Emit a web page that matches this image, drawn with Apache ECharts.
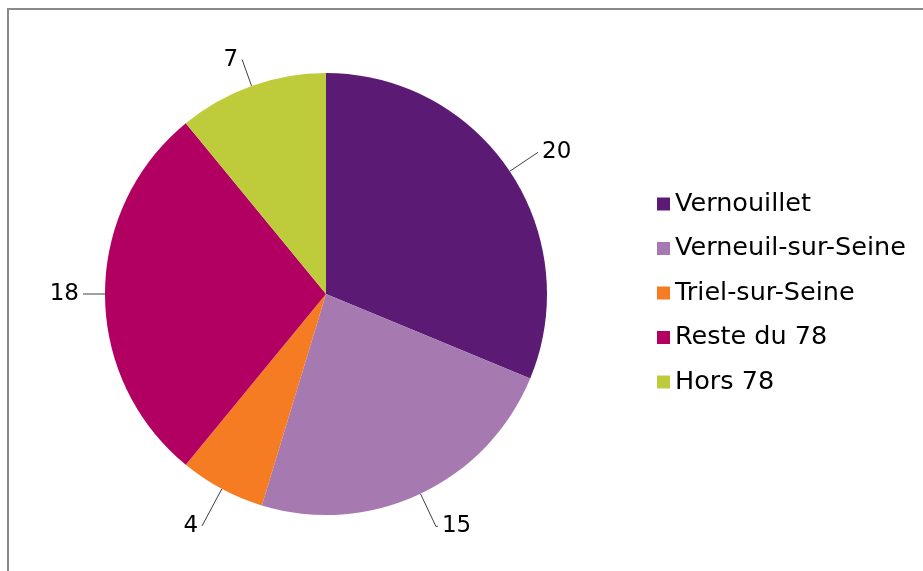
<!DOCTYPE html>
<html>
<head>
<meta charset="utf-8">
<script src="https://cdn.jsdelivr.net/npm/echarts@6/dist/echarts.min.js"></script>
<style>
html,body{margin:0;padding:0;background:#fff;}
#chart{width:923px;height:571px;}
</style>
</head>
<body>
<div id="chart"></div>
<script>
const categories = ['Vernouillet', 'Verneuil-sur-Seine', 'Triel-sur-Seine', 'Reste du 78', 'Hors 78'];
const values = [20, 15, 4, 18, 7];
const colors = ['#5B1A74', '#A679B0', '#F57C22', '#B10062', '#BECC3C'];
const lineLen = [34, 36, 42, 12, 28];
const lineLen2 = [0, 2, 0, 10, 0];

const chart = echarts.init(document.getElementById('chart'), null, {renderer: 'canvas'});
const FONT = '"DejaVu Sans", Verdana, sans-serif';

chart.setOption({
  animation: false,
  backgroundColor: '#fff',
  graphic: [{
    type: 'rect',
    shape: {x: 8, y: 9, width: 1200, height: 1200},
    style: {fill: 'none', stroke: '#8a8a8a', lineWidth: 2},
    silent: true
  }],
  legend: {
    orient: 'vertical',
    left: 657,
    top: 191,
    padding: 0,
    itemWidth: 13,
    itemHeight: 13,
    itemGap: 18.5,
    icon: 'rect',
    textStyle: {fontFamily: FONT, fontSize: 25.5, color: '#000', lineHeight: 24},
    data: categories
  },
  series: [{
    type: 'pie',
    center: [326, 294],
    radius: 221,
    startAngle: 90,
    clockwise: true,
    avoidLabelOverlap: false,
    itemStyle: {borderWidth: 0},
    label: {
      show: true,
      formatter: '{c}',
      fontFamily: FONT,
      fontSize: 23,
      color: '#000',
      distanceToLabelLine: 4
    },
    labelLine: {show: true, lineStyle: {color: '#404040', width: 1}},
    emphasis: {disabled: true},
    data: categories.map((name, i) => ({
      name: name,
      value: values[i],
      itemStyle: {color: colors[i]},
      labelLine: {length: lineLen[i], length2: lineLen2[i]}
    }))
  }]
});
</script>
</body>
</html>
